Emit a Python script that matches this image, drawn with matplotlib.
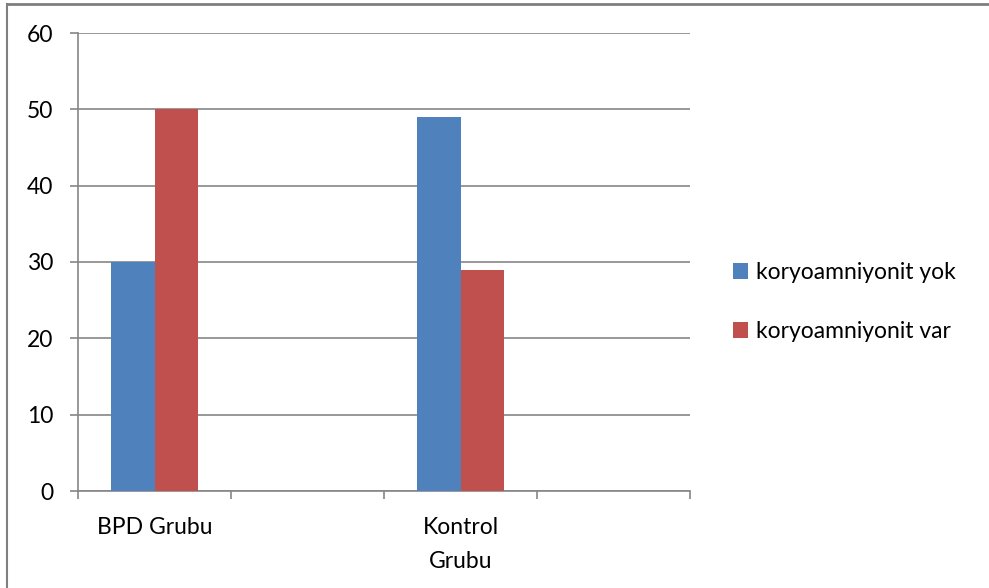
import numpy as np
import matplotlib
matplotlib.use('Agg')
import matplotlib.pyplot as plt
from matplotlib.lines import Line2D

plt.rcParams['font.family'] = ['Lato', 'DejaVu Sans']

categories = ['BPD Grubu', '', 'Kontrol\nGrubu', '']
yok = [30, 0, 49, 0]
var = [50, 0, 29, 0]
series_names = ['koryoamniyonit yok', 'koryoamniyonit var']
yticks = [0, 10, 20, 30, 40, 50, 60]

W, H = 989, 588
fig = plt.figure(figsize=(W / 100, H / 100), dpi=100)
ax = fig.add_axes([78 / W, 1 - 491 / H, (690 - 78) / W, (491 - 33) / H])

x = np.arange(len(categories))
bw = 0.287
ax.bar(x - bw / 2, yok, bw, color='#4f81bd', label=series_names[0], zorder=3)
ax.bar(x + bw / 2, var, bw, color='#c0504d', label=series_names[1], zorder=3)

ax.set_xlim(-0.5, len(categories) - 0.5)
ax.set_ylim(0, 60)
ax.set_yticks(yticks)
ax.set_yticklabels([str(v) for v in yticks], fontsize=16.5)
ax.yaxis.grid(True, color='#868686', linewidth=1.2, zorder=0)
ax.tick_params(axis='y', length=5.8, color='#868686', width=1.2, pad=12)

# tick marks on category boundaries, labels at centres
ax.set_xticks(np.arange(-0.5, len(categories), 1.0))
ax.set_xticklabels([])
ax.tick_params(axis='x', which='major', length=5.5, color='#868686', width=1.2)
ax.set_xticks(x, minor=True)
ax.set_xticklabels(categories, minor=True, fontsize=16.5, linespacing=1.75, va='top')
ax.tick_params(axis='x', which='minor', length=0, pad=19)

for s in ['top', 'right']:
    ax.spines[s].set_visible(False)
for s in ['left', 'bottom']:
    ax.spines[s].set_color('#868686')
    ax.spines[s].set_linewidth(1.2)

leg = fig.legend(loc='center left', bbox_to_anchor=(717 / W, 1 - 302 / H), frameon=False,
                 fontsize=16.5, handlelength=0.65, handleheight=0.65, handletextpad=0.35,
                 labelspacing=1.65, borderpad=0.2)

# outer chart border (top and left)
fig.add_artist(Line2D([7 / W, 1], [1 - 4 / H, 1 - 4 / H], color='#7f7f7f', linewidth=2))
fig.add_artist(Line2D([7 / W, 7 / W], [0, 1 - 4 / H], color='#7f7f7f', linewidth=1.5))

fig.savefig('out.png', dpi=100)
